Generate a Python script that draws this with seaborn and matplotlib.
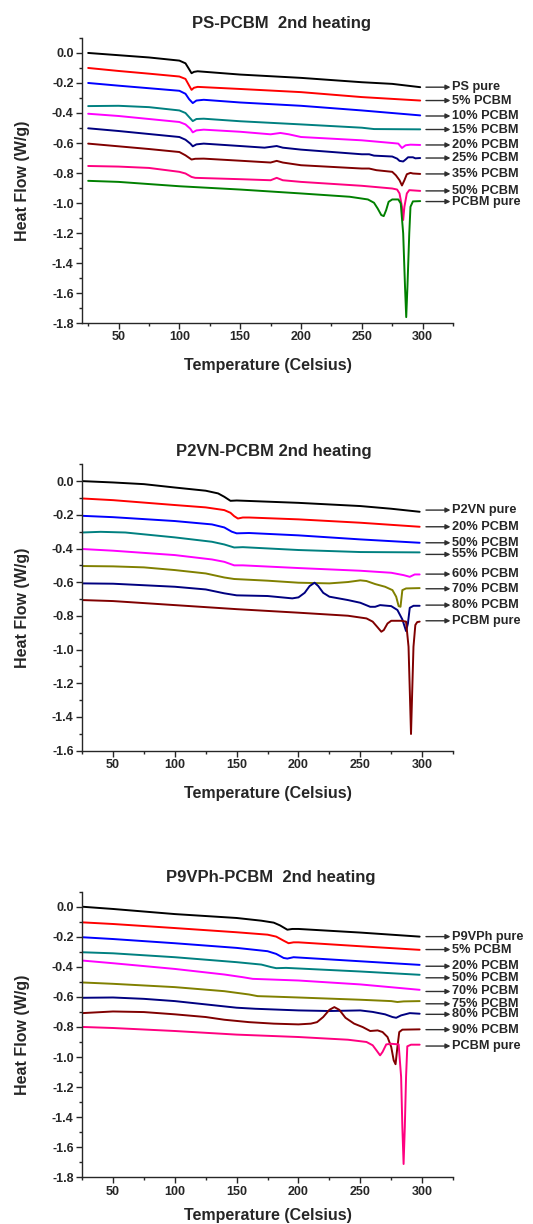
import pandas as pd
import matplotlib
matplotlib.use("Agg")
import matplotlib.pyplot as plt
from matplotlib.ticker import MultipleLocator, FuncFormatter
import seaborn as sns

# ---- PS-PCBM panel ----
ps_labels = ["PS pure", "5% PCBM", "10% PCBM", "15% PCBM", "20% PCBM",
             "25% PCBM", "35% PCBM", "50% PCBM", "PCBM pure"]
ps_colors = ["#000000", "#FF0000", "#0000FF", "#008080", "#FF00FF",
             "#000080", "#800000", "#FF0080", "#008000"]
ps_ends = [-0.228, -0.317, -0.42, -0.51, -0.613, -0.70, -0.806, -0.919, -0.99]
ps_temp = [
    [25, 50, 75, 100, 105, 107, 110, 112, 115, 150, 200, 250, 275, 298],
    [25, 50, 75, 100, 105, 108, 110, 112, 115, 150, 200, 250, 298],
    [25, 50, 75, 100, 105, 108, 111, 114, 120, 150, 200, 250, 298],
    [25, 50, 75, 100, 105, 108, 111, 114, 120, 150, 200, 250, 260, 298],
    [25, 50, 75, 100, 105, 109, 111, 114, 120, 150, 175, 183, 190, 200, 250,
     275, 280, 283, 286, 290, 298],
    [25, 50, 75, 100, 105, 109, 111, 114, 120, 150, 170, 180, 185, 200, 250,
     256, 260, 275, 279, 281, 284, 286, 288, 292, 294, 298],
    [25, 50, 75, 100, 105, 110, 113, 120, 150, 175, 180, 185, 200, 250, 256,
     262, 275, 278, 281, 283, 285, 287, 290, 292, 298],
    [25, 50, 75, 100, 105, 110, 113, 150, 175, 180, 185, 200, 250, 275, 279,
     281, 283, 284, 285, 287, 289, 298],
    [25, 50, 100, 150, 200, 240, 255, 260, 263, 266, 268, 270, 272, 275, 280,
     282, 284, 285.5, 286.5, 287.5, 289, 290, 292, 298],
]
ps_flow = [
    [0.0, -0.015, -0.03, -0.051, -0.069, -0.095, -0.135, -0.126, -0.122,
     -0.144, -0.166, -0.195, -0.206, -0.228],
    [-0.1, -0.12, -0.138, -0.157, -0.173, -0.217, -0.246, -0.232, -0.226,
     -0.24, -0.261, -0.294, -0.317],
    [-0.2, -0.218, -0.235, -0.252, -0.272, -0.308, -0.334, -0.317, -0.312,
     -0.33, -0.352, -0.383, -0.416],
    [-0.354, -0.352, -0.361, -0.383, -0.4, -0.427, -0.454, -0.44, -0.438,
     -0.455, -0.476, -0.498, -0.507, -0.509],
    [-0.405, -0.42, -0.44, -0.46, -0.476, -0.505, -0.529, -0.516, -0.511,
     -0.525, -0.542, -0.533, -0.542, -0.56, -0.582, -0.6, -0.604, -0.633,
     -0.615, -0.611, -0.613],
    [-0.502, -0.52, -0.54, -0.56, -0.578, -0.604, -0.622, -0.609, -0.604,
     -0.62, -0.631, -0.62, -0.631, -0.644, -0.675, -0.675, -0.684, -0.69,
     -0.704, -0.719, -0.723, -0.71, -0.695, -0.695, -0.702, -0.70],
    [-0.604, -0.622, -0.64, -0.66, -0.682, -0.71, -0.705, -0.704, -0.718,
     -0.73, -0.719, -0.73, -0.748, -0.77, -0.77, -0.781, -0.792, -0.815,
     -0.848, -0.883, -0.848, -0.808, -0.799, -0.803, -0.806],
    [-0.753, -0.757, -0.766, -0.792, -0.803, -0.826, -0.832, -0.841, -0.848,
     -0.832, -0.848, -0.859, -0.885, -0.903, -0.91, -0.936, -1.025, -1.113,
     -1.025, -0.936, -0.914, -0.919],
    [-0.852, -0.859, -0.888, -0.91, -0.936, -0.958, -0.976, -0.998, -1.036,
     -1.08, -1.087, -1.047, -0.992, -0.976, -0.976, -1.003, -1.202, -1.556,
     -1.76, -1.556, -1.202, -1.025, -0.989, -0.987],
]

# ---- P2VN-PCBM panel ----
p2vn_labels = ["P2VN pure", "20% PCBM", "50% PCBM", "55% PCBM", "60% PCBM",
               "70% PCBM", "80% PCBM", "PCBM pure"]
p2vn_colors = ["#000000", "#FF0000", "#0000FF", "#008080", "#FF00FF",
               "#808000", "#000080", "#800000"]
p2vn_ends = [-0.172, -0.271, -0.366, -0.435, -0.552, -0.639, -0.736, -0.829]
p2vn_temp = [
    [25, 50, 75, 100, 125, 135, 140, 145, 150, 200, 250, 275, 298],
    [25, 50, 100, 125, 140, 145, 148, 151, 155, 160, 200, 250, 298],
    [25, 50, 100, 130, 140, 146, 150, 160, 200, 250, 298],
    [25, 40, 60, 100, 130, 140, 148, 155, 200, 250, 298],
    [25, 50, 100, 130, 140, 148, 155, 200, 250, 275, 285, 290, 294, 298],
    [25, 50, 75, 100, 125, 140, 148, 175, 200, 225, 240, 250, 255, 262, 270,
     276, 279, 281, 282.5, 284, 287, 298],
    [25, 50, 100, 125, 140, 150, 175, 195, 200, 205, 209, 213, 216, 220, 225,
     240, 250, 258, 262, 266, 275, 280, 284, 287, 288.5, 290, 293, 298],
    [25, 50, 100, 150, 200, 240, 255, 260, 264, 267, 269, 272, 275, 283, 287,
     289, 290, 291, 292, 293, 294.5, 296, 298],
]
p2vn_flow = [
    [0.0, -0.008, -0.018, -0.038, -0.057, -0.073, -0.093, -0.117, -0.115,
     -0.129, -0.148, -0.164, -0.182],
    [-0.103, -0.113, -0.142, -0.156, -0.172, -0.188, -0.208, -0.222, -0.216,
     -0.216, -0.227, -0.247, -0.271],
    [-0.206, -0.214, -0.237, -0.257, -0.275, -0.3, -0.31, -0.308, -0.322,
     -0.346, -0.366],
    [-0.305, -0.301, -0.305, -0.334, -0.36, -0.376, -0.394, -0.392, -0.409,
     -0.421, -0.423],
    [-0.403, -0.413, -0.439, -0.465, -0.479, -0.5, -0.5, -0.516, -0.532,
     -0.544, -0.558, -0.568, -0.554, -0.554],
    [-0.504, -0.506, -0.512, -0.528, -0.548, -0.572, -0.581, -0.591, -0.603,
     -0.607, -0.599, -0.589, -0.593, -0.611, -0.627, -0.647, -0.686, -0.742,
     -0.746, -0.647, -0.637, -0.635],
    [-0.607, -0.609, -0.627, -0.643, -0.666, -0.678, -0.682, -0.696, -0.69,
     -0.663, -0.623, -0.603, -0.623, -0.663, -0.686, -0.706, -0.722, -0.746,
     -0.746, -0.736, -0.742, -0.765, -0.821, -0.89, -0.845, -0.752, -0.74,
     -0.74],
    [-0.706, -0.712, -0.736, -0.76, -0.781, -0.799, -0.815, -0.834, -0.868,
     -0.894, -0.884, -0.845, -0.829, -0.829, -0.834, -0.983, -1.24, -1.501,
     -1.24, -0.983, -0.854, -0.837, -0.834],
]

# ---- P9VPh-PCBM panel ----
p9_labels = ["P9VPh pure", "5% PCBM", "20% PCBM", "50% PCBM", "70% PCBM",
             "75% PCBM", "80% PCBM", "90% PCBM", "PCBM pure"]
p9_colors = ["#000000", "#FF0000", "#0000FF", "#008080", "#FF00FF",
             "#808000", "#000080", "#800000", "#FF0080"]
p9_ends = [-0.199, -0.285, -0.396, -0.473, -0.564, -0.646, -0.716, -0.818, -0.927]
p9_temp = [
    [25, 50, 100, 150, 170, 180, 185, 191, 195, 200, 250, 298],
    [25, 50, 100, 150, 175, 182, 188, 192, 196, 200, 250, 298],
    [25, 50, 100, 150, 175, 182, 188, 191, 196, 250, 298],
    [25, 50, 100, 150, 170, 178, 182, 190, 250, 298],
    [25, 50, 100, 140, 155, 163, 170, 200, 250, 298],
    [25, 50, 100, 140, 160, 167, 175, 200, 250, 275, 280, 285, 298],
    [25, 50, 75, 100, 125, 150, 165, 200, 225, 250, 260, 270, 276, 279, 283,
     290, 298],
    [25, 50, 75, 100, 125, 140, 160, 180, 200, 210, 215, 220, 225, 229, 233,
     238, 245, 252, 258, 264, 268, 272, 275, 277, 278.5, 280, 281.5, 284, 298],
    [25, 50, 100, 150, 200, 240, 255, 260, 263, 266, 268, 271, 275, 281, 283,
     284, 285, 286, 287, 288, 291, 298],
]
p9_flow = [
    [0.0, -0.015, -0.049, -0.075, -0.093, -0.106, -0.124, -0.153, -0.148,
     -0.148, -0.172, -0.199],
    [-0.104, -0.115, -0.142, -0.17, -0.186, -0.199, -0.226, -0.243, -0.237,
     -0.237, -0.263, -0.287],
    [-0.203, -0.215, -0.243, -0.274, -0.296, -0.314, -0.341, -0.345, -0.336,
     -0.363, -0.387],
    [-0.303, -0.31, -0.336, -0.369, -0.385, -0.402, -0.409, -0.407, -0.431,
     -0.453],
    [-0.358, -0.376, -0.414, -0.451, -0.469, -0.48, -0.482, -0.491, -0.517,
     -0.553],
    [-0.504, -0.513, -0.535, -0.562, -0.584, -0.595, -0.597, -0.604, -0.619,
     -0.628, -0.634, -0.63, -0.628],
    [-0.606, -0.604, -0.613, -0.628, -0.65, -0.672, -0.679, -0.69, -0.694,
     -0.69, -0.7, -0.716, -0.734, -0.739, -0.723, -0.708, -0.712],
    [-0.708, -0.697, -0.701, -0.716, -0.734, -0.752, -0.768, -0.778, -0.783,
     -0.778, -0.768, -0.734, -0.686, -0.668, -0.686, -0.739, -0.778, -0.801,
     -0.827, -0.823, -0.834, -0.867, -0.933, -1.022, -1.048, -0.933, -0.834,
     -0.818, -0.816],
    [-0.8, -0.807, -0.827, -0.851, -0.867, -0.885, -0.9, -0.922, -0.955,
     -0.989, -0.966, -0.916, -0.912, -0.916, -1.132, -1.464, -1.712, -1.464,
     -1.132, -0.929, -0.918, -0.918],
]

sns.set_style("ticks")
plt.rcParams['font.family'] = ['Liberation Sans', 'DejaVu Sans']
plt.rcParams['font.weight'] = 'bold'
plt.rcParams['axes.labelweight'] = 'bold'


def draw_panel(ax, labels, colors, ends, temps, flows, xlim, ylim, xlab_y=-0.148):
    rows = []
    for lab, ts, vs in zip(labels, temps, flows):
        for t, v in zip(ts, vs):
            rows.append((lab, t, v))
    df = pd.DataFrame(rows, columns=['sample', 'T', 'flow'])
    sns.lineplot(data=df, x='T', y='flow', hue='sample', units='sample',
                 palette=dict(zip(labels, colors)), estimator=None, sort=False,
                 legend=False, lw=1.4, ax=ax)
    ax.set_xlim(*xlim)
    ax.set_ylim(*ylim)
    ax.xaxis.set_major_locator(MultipleLocator(50))
    ax.xaxis.set_minor_locator(MultipleLocator(25))
    ax.yaxis.set_major_locator(MultipleLocator(0.2))
    ax.yaxis.set_minor_locator(MultipleLocator(0.1))
    ax.yaxis.set_major_formatter(FuncFormatter(lambda v, p: f"{round(v, 1) + 0:.1f}"))
    ax.tick_params(which='major', direction='out', length=4, width=1,
                   labelsize=9, pad=2)
    ax.tick_params(which='minor', direction='out', length=2.5, width=1)
    sns.despine(ax=ax)
    for s in ('left', 'bottom'):
        ax.spines[s].set_linewidth(1)
    ax.set_xlabel('Temperature (Celsius)', fontsize=11.5)
    ax.set_ylabel('Heat Flow (W/g)', fontsize=11.5)
    ax.xaxis.label.set_va('center')
    ax.yaxis.label.set_va('center')
    ax.xaxis.set_label_coords(0.5, xlab_y)
    ax.yaxis.set_label_coords(-0.16, 0.5)
    tr = ax.get_yaxis_transform()
    for lab, y in zip(labels, ends):
        ax.annotate('', xy=(0.993, y), xytext=(0.927, y), xycoords=tr,
                    annotation_clip=False,
                    arrowprops=dict(arrowstyle='-|>', color='#303030', lw=1,
                                    mutation_scale=7, shrinkA=0, shrinkB=0))
        ax.text(0.997, y, lab, transform=tr, ha='left', va='center',
                fontsize=9.2, fontweight='bold', clip_on=False)


fig = plt.figure(figsize=(5.33, 12.24), dpi=100)
ax1 = fig.add_axes([0.154, 0.736, 0.696, 0.233])
ax2 = fig.add_axes([0.154, 0.3867, 0.696, 0.234])
ax3 = fig.add_axes([0.154, 0.0382, 0.696, 0.2333])

draw_panel(ax1, ps_labels, ps_colors, ps_ends, ps_temp, ps_flow, (20, 325), (-1.8, 0.1))
draw_panel(ax2, p2vn_labels, p2vn_colors, p2vn_ends, p2vn_temp, p2vn_flow, (25, 325), (-1.6, 0.1))
draw_panel(ax3, p9_labels, p9_colors, p9_ends, p9_temp, p9_flow, (25, 325), (-1.8, 0.1),
           xlab_y=-0.135)

fig.text(0.5285, 0.981, 'PS-PCBM  2nd heating', ha='center', va='center',
         fontsize=12, fontweight='bold')
fig.text(0.5137, 0.631, 'P2VN-PCBM 2nd heating', ha='center', va='center',
         fontsize=12, fontweight='bold')
fig.text(0.508, 0.2833, 'P9VPh-PCBM  2nd heating', ha='center', va='center',
         fontsize=12, fontweight='bold')

fig.savefig('out.png', dpi=100)
